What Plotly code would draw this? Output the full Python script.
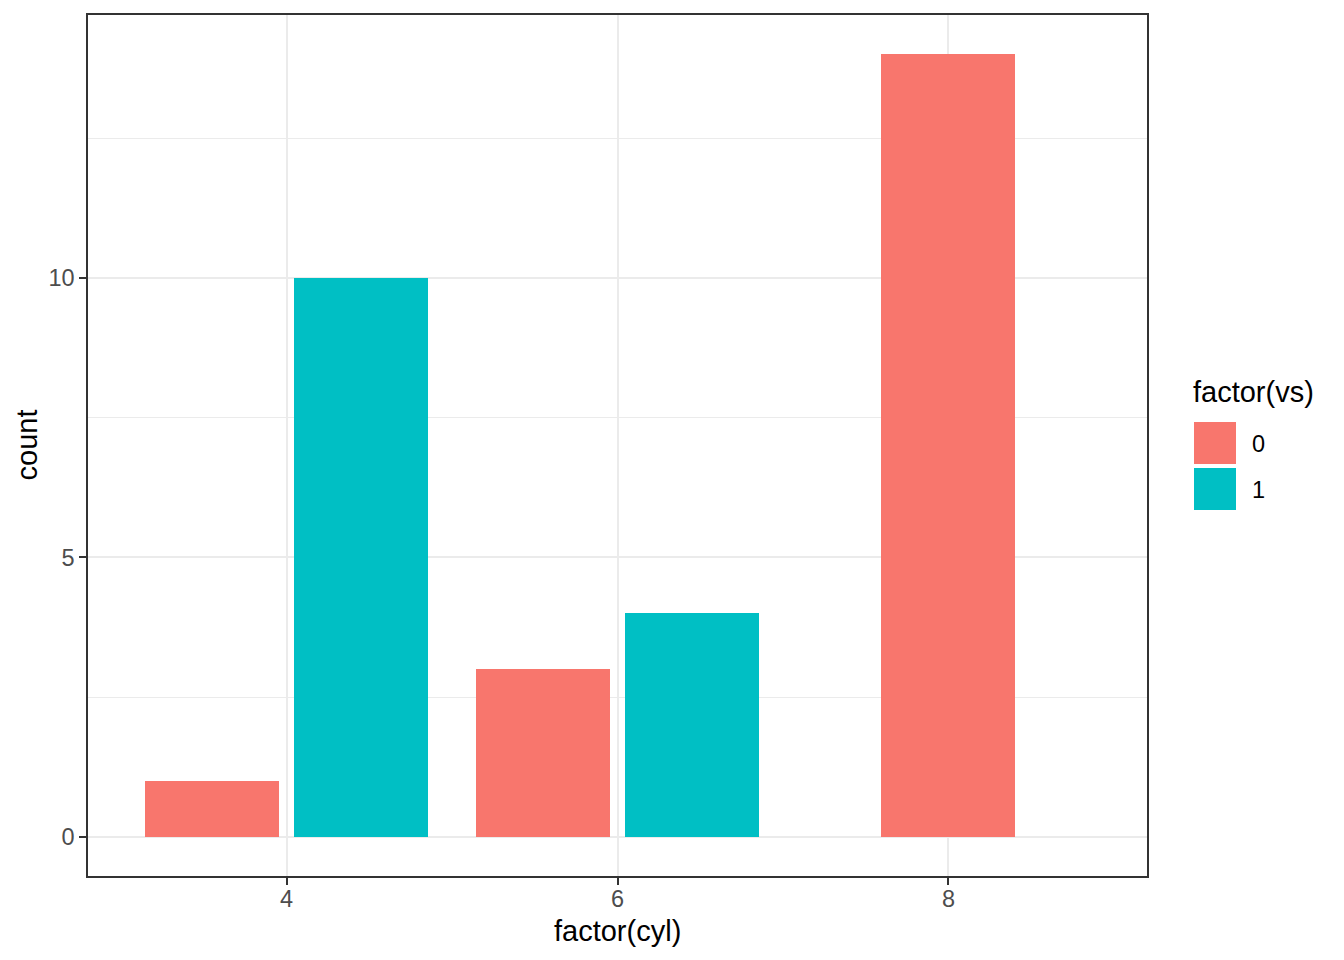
import plotly.graph_objects as go

# ---- data (mtcars: counts of cars by cylinders and engine shape) ----
cyl_levels = ["4", "6", "8"]
vs_levels = ["0", "1"]
count_vs0 = [1, 3, 14]
count_vs1 = [10, 4, 0]
colors = ["#F8766D", "#00BFC4"]
y_ticks = [0, 5, 10]

counts = {"0": count_vs0, "1": count_vs1}

# ---- dodge2 layout (width 0.9, padding 0.1, preserve single), computed from data ----
WIDTH, PAD = 0.9, 0.1
n_max = max(sum(1 for v in vs_levels if counts[v][ci] > 0) for ci in range(len(cyl_levels)))
slot = WIDTH / n_max
pos = {v: ([], [], []) for v in vs_levels}  # x, y, width
for ci, _ in enumerate(cyl_levels):
    present = [v for v in vs_levels if counts[v][ci] > 0]
    n = len(present)
    for k, v in enumerate(present):
        center = ci + slot * (k + 0.5 - n / 2)
        pos[v][0].append(center)
        pos[v][1].append(counts[v][ci])
        pos[v][2].append(slot * (1 - PAD))

fig = go.Figure()
for v, col in zip(vs_levels, colors):
    xs, ys, ws = pos[v]
    fig.add_trace(go.Bar(x=xs, y=ys, width=ws, marker=dict(color=col, line=dict(width=0)),
                         name=v, showlegend=False))

W, H = 1344, 960
L, R, T, B = 88, 1147, 15, 876
FONT = "Liberation Sans, Arial, sans-serif"
grid = "#EBEBEB"

fig.update_layout(
    width=W, height=H,
    margin=dict(l=L, r=W - R, t=T, b=H - B, pad=0),
    paper_bgcolor="white", plot_bgcolor="white",
    font=dict(family=FONT),
    bargap=0,
    xaxis=dict(
        range=[-0.6, 2.6], tickvals=list(range(len(cyl_levels))), ticktext=cyl_levels,
        showticklabels=False,
        showgrid=True, gridcolor=grid, gridwidth=2, zeroline=False,
        showline=True, mirror=True, linecolor="#333333", linewidth=1.5,
        ticks="outside", ticklen=7, tickwidth=2, tickcolor="#333333",
    ),
    yaxis=dict(
        range=[-0.7, 14.7], tickvals=y_ticks,
        showgrid=True, gridcolor=grid, gridwidth=2, zeroline=False,
        showline=True, mirror=True, linecolor="#333333", linewidth=1.5,
        ticks="outside", ticklen=7, tickwidth=2, tickcolor="#333333",
        tickfont=dict(size=23.5, color="#4D4D4D", family=FONT),
        minor=dict(dtick=2.5, tick0=0, showgrid=True, gridcolor=grid, gridwidth=1),
    ),
)

def px(x):
    return (x - L) / (R - L)

def py(y):
    return (B - y) / (B - T)

ann = [
    dict(text="factor(cyl)", x=px((L + R) / 2), y=py(931), xanchor="center", yanchor="middle",
         xref="paper", font=dict(size=29, color="black")),
    dict(text="count", x=px(26), y=py((T + B) / 2), xanchor="center", yanchor="middle",
         xref="paper", textangle=-90, font=dict(size=29, color="black")),
    dict(text="factor(vs)", x=px(1191), y=py(392), xanchor="left", yanchor="middle",
         xref="paper", font=dict(size=29, color="black")),
]
# x tick labels as text just under the ticks
for i, lab in enumerate(cyl_levels):
    ann.append(dict(text=lab, x=i, xref="x", y=py(899), xanchor="center", yanchor="middle",
                    font=dict(size=23.5, color="#4D4D4D")))
shapes = []
key_tops = [422, 468]
for v, col, kt in zip(vs_levels, colors, key_tops):
    shapes.append(dict(type="rect", xref="paper", yref="paper",
                       x0=px(1194), x1=px(1236), y0=py(kt + 42), y1=py(kt),
                       fillcolor=col, line=dict(width=0)))
    ann.append(dict(text=v, x=px(1250), xref="paper", y=py(kt + 22), xanchor="left", yanchor="middle",
                    font=dict(size=23.5, color="black")))

for a in ann:
    a.update(yref="paper", showarrow=False)
fig.update_layout(annotations=ann, shapes=shapes)

fig.write_html("out.html")
